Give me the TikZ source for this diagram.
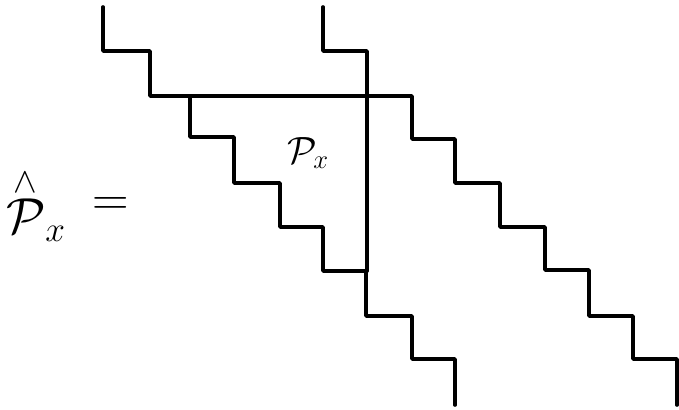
\RequirePackage{fix-cm}
\documentclass[tikz,border=0pt]{standalone}
\usepackage{tikz}
\usepackage{amsmath}

\begin{document}
\begin{tikzpicture}[x=0.025cm, y=-0.025cm,
    stair/.style={line width=2.6pt, line cap=round, line join=round, black},
    biglabel/.style={font=\fontsize{36}{43}\selectfont, inner sep=0pt},
    smalllabel/.style={font=\fontsize{27}{32}\selectfont, inner sep=0pt}
]
\useasboundingbox (0,0) rectangle (679,409);

% Outer staircase with the top bar
\draw[stair] (103,7) -- (103,51) -- (150,51) -- (150,96) -- (412,96)
    -- (412,139) -- (455,139) -- (455,183) -- (500,183) -- (500,227)
    -- (545,227) -- (545,270) -- (589,270) -- (589,316) -- (633,316)
    -- (633,359) -- (677,359) -- (677,405);

% Inner staircase
\draw[stair] (190,96) -- (190,137) -- (234,137) -- (234,183) -- (280,183)
    -- (280,227) -- (323,227) -- (323,271) -- (366,271) -- (366,316)
    -- (412,316) -- (412,359) -- (455,359) -- (455,405);

% Second staircase top and its long side
\draw[stair] (323,7) -- (323,51) -- (367,51) -- (367,271);

% Labels
\node[biglabel] (phat) at (36,205) {$\overset{\wedge}{\mathcal{P}}_x$};
\node[biglabel] (eq) at (111,206) {$=$};
\node[smalllabel] (px) at (308,153) {$\mathcal{P}_x$};

\end{tikzpicture}
\end{document}
